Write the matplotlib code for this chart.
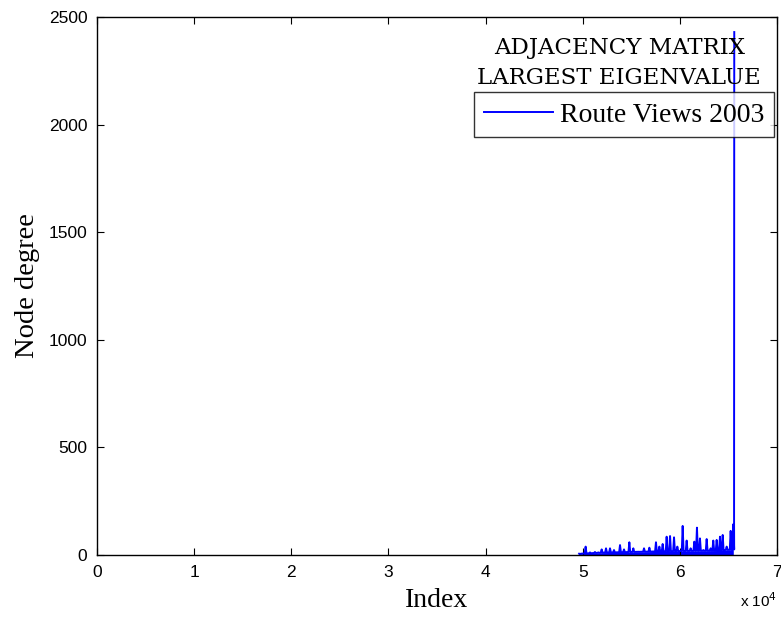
import numpy as np
import matplotlib
matplotlib.use("Agg")
import matplotlib.pyplot as plt

# peaks of the degree curve (node index, degree)
peak_idx = [49720, 50300, 50750, 51260, 51610, 51950, 52400, 52810, 53220, 53840,
            54250, 54800, 55210, 55720, 56310, 56860, 57540, 57890, 58230, 58640,
            58990, 59400, 59740, 60290, 60700, 61110, 61490, 61760, 62070, 62420,
            62760, 63170, 63440, 63790, 64130, 64410, 64820, 65230, 65500]
peak_deg = [3, 39, 12, 14, 12, 26, 31, 31, 23, 46,
            26, 59, 31, 15, 31, 34, 59, 39, 51, 85,
            88, 82, 39, 135, 67, 31, 62, 127, 77, 23,
            74, 31, 67, 70, 85, 93, 39, 112, 143]

# dense low band under the peaks
floor_idx = [49720, 52000, 55000, 58000, 61000, 64000, 65500]
floor_deg = [6, 11, 14, 17, 19, 21, 26]

# the hub node
top_idx = 65600
top_deg = 2430

sans = ['Liberation Sans Narrow', 'Liberation Sans', 'DejaVu Sans']
serif = ['Liberation Serif', 'DejaVu Serif']

fig = plt.figure(figsize=(7.81, 6.19), dpi=100)
ax = fig.add_axes([97/781, 64/619, 680/781, 538/619])

# build the spiky polyline: floor -> peak -> floor
fl = np.interp(peak_idx, floor_idx, floor_deg)
xs, ys = [], []
for i, p, f in zip(peak_idx, peak_deg, fl):
    xs += [i - 90, i, i + 90]
    ys += [f, p, f]
xs += [top_idx - 20, top_idx]
ys += [peak_deg[-1], top_deg]

ax.fill_between(floor_idx, 0, floor_deg, color='#0000ff', lw=0)
ax.plot(xs, ys, color='#0000ff', lw=1.4, label='Route Views 2003')

ax.set_xlim(0, 70000)
ax.set_ylim(0, 2500)
ax.set_xticks(np.arange(0, 70001, 10000))
ax.set_xticklabels([str(k) for k in range(8)])
ax.set_yticks(np.arange(0, 2501, 500))
ax.tick_params(direction='in', top=True, right=True, length=5, width=0.8,
               labelsize=12.5, pad=7)
for lab in ax.get_xticklabels() + ax.get_yticklabels():
    lab.set_family(sans)
for s in ax.spines.values():
    s.set_linewidth(1.0)

ax.text(1.0, -0.085, r'x 10$^4$', transform=ax.transAxes, ha='right', va='center',
        fontsize=11, family=sans)
ax.set_xlabel('Index', fontsize=20, family=serif, labelpad=6)
ax.set_ylabel('Node degree', fontsize=20.5, family=serif, labelpad=6)

ax.text(0.768, 0.962, 'ADJACENCY MATRIX\nLARGEST EIGENVALUE', transform=ax.transAxes,
        ha='center', va='top', fontsize=16.5, family=['DejaVu Serif'],
        linespacing=1.45)

leg = ax.legend(loc='upper right', bbox_to_anchor=(1.0, 0.865), prop={'family': serif, 'size': 20},
                frameon=True, fancybox=False, edgecolor='black', handlelength=2.5,
                borderpad=0.35, handletextpad=0.25, borderaxespad=0.1)
leg.get_frame().set_linewidth(1.0)

fig.savefig('out.png', dpi=100)
